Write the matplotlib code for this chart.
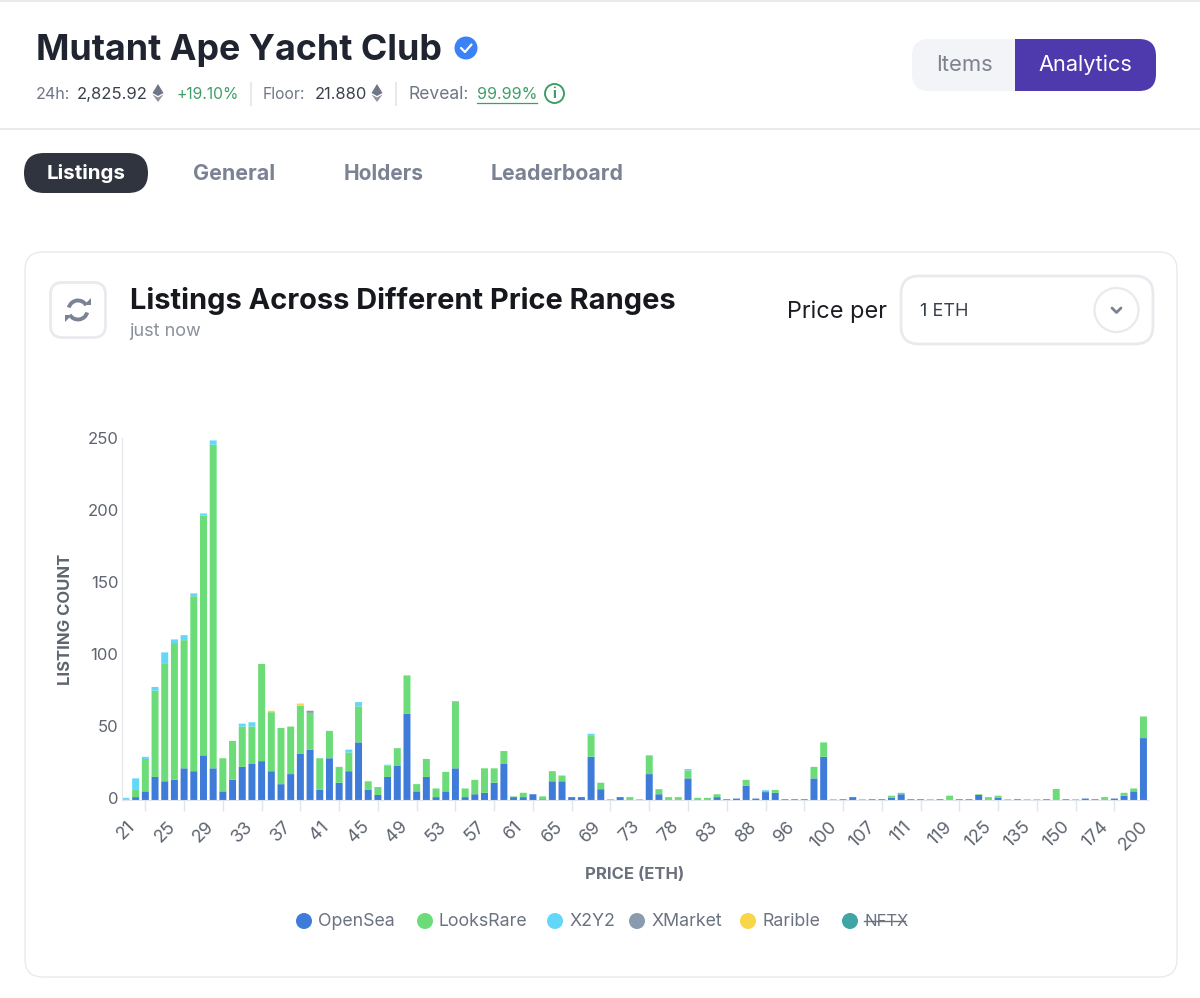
import matplotlib
matplotlib.use("Agg")
import matplotlib.pyplot as plt
from matplotlib.patches import Arc, Circle, FancyBboxPatch, Polygon, Rectangle
from matplotlib.transforms import ScaledTranslation

plt.rcParams["font.family"] = ["Inter", "DejaVu Sans"]

tick_labels = ["21", "25", "29", "33", "37", "41", "45", "49", "53", "57", "61", "65", "69", "73",
               "78", "83", "88", "96", "100", "107", "111", "119", "125", "135", "150", "174", "200"]

opensea = [0, 2, 6, 16, 13, 14, 22, 20, 31, 22,
           6, 14, 23, 25, 27, 20, 11, 18, 32, 35,
           7, 29, 12, 20, 40, 7, 3.5, 16, 24, 60,
           6, 16, 2, 6, 22, 2, 4, 5, 12, 25,
           2, 2, 4, 0.5, 13, 13, 2, 2, 30, 7.5,
           0.3, 2, 0, 0, 18, 4, 0, 0, 15, 0,
           0, 2, 0.5, 1, 10, 1, 5.5, 5, 0.5, 0.5,
           0.5, 15, 30, 0, 0.5, 2, 0, 0.5, 0.5, 1.5,
           4, 0.5, 0.5, 0, 0.5, 0, 0.5, 0.5, 3.5, 0,
           1.5, 0, 0.5, 0, 0, 0.5, 0, 0.5, 0, 1,
           0.5, 0, 1, 3, 6, 43]
looksrare = [0.5, 5, 22.5, 60, 82, 95, 89, 121.5, 166.5, 224.7,
             23, 27, 28, 26, 67.5, 41, 39, 33, 33.5, 25.5,
             22, 19, 10.5, 13, 25, 6, 5.5, 8, 12, 26.5,
             5, 12.5, 6, 13.5, 46, 6, 10, 17, 10, 9,
             0.5, 3, 0, 2, 7, 4, 0, 0, 15, 4.5,
             0, 0, 2, 0.5, 13, 3.5, 2, 2, 5.5, 1.5,
             1.5, 2, 0, 0, 4, 0, 1, 2, 0, 0,
             0, 8, 10, 0.5, 0, 0, 0.5, 0, 0, 1.5,
             1, 0, 0, 0.5, 0, 3, 0, 0, 0.5, 2,
             1.5, 0.5, 0, 0.5, 0.5, 0, 7, 0, 0.5, 0,
             0, 2, 0, 2, 2, 15]
x2y2 = [1, 8, 1.5, 2.5, 7.5, 2.5, 3.5, 2, 1.5, 3,
        0, 0, 2, 3, 0, 0, 0, 0, 0, 0,
        0, 0, 0, 2, 3, 0, 0, 0.5, 0, 0,
        0, 0, 0, 0, 0, 0, 0, 0, 0, 0,
        0, 0, 0, 0, 0, 0, 0, 0, 1, 0,
        0, 0, 0, 0, 0, 0, 0, 0, 1, 0,
        0, 0, 0, 0, 0, 0, 0.5, 0, 0, 0,
        0, 0, 0, 0, 0, 0, 0, 0, 0, 0,
        0, 0, 0, 0, 0, 0, 0, 0, 0, 0,
        0, 0, 0, 0, 0, 0, 0, 0, 0, 0,
        0, 0, 0, 0, 0, 0]
xmarket = [0, 0, 0, 0, 0, 0, 0, 0, 0, 0,
           0, 0, 0, 0, 0, 0, 0, 0, 0, 1.5,
           0, 0, 0.5, 0, 0, 0, 0, 0, 0, 0,
           0, 0, 0, 0, 0.5, 0, 0, 0, 0, 0,
           0, 0, 0, 0, 0, 0, 0, 0, 0, 0,
           0, 0, 0, 0, 0, 0, 0, 0, 0, 0,
           0, 0, 0, 0, 0, 0, 0, 0, 0, 0,
           0, 0, 0, 0, 0, 0, 0, 0, 0, 0,
           0, 0, 0, 0, 0, 0, 0, 0, 0, 0,
           0, 0, 0, 0, 0, 0, 0.5, 0, 0, 0,
           0, 0, 0, 0, 0, 0]
rarible = [0, 0, 0, 0, 0, 0, 0, 0, 0, 0,
           0, 0, 0, 0, 0, 1, 0, 0, 1.5, 0,
           0, 0, 0, 0, 0, 0, 0, 0, 0, 0,
           0, 0, 0, 0, 0, 0, 0, 0, 0, 0,
           0, 0, 0, 0, 0, 0, 0, 0, 0, 0,
           0, 0, 0, 0, 0, 0, 0, 0, 0, 0,
           0, 0, 0, 0, 0, 0, 0, 0, 0, 0,
           0, 0, 0, 0, 0, 0, 0, 0, 0, 0,
           0, 0, 0, 0, 0, 0, 0, 0, 0, 0,
           0, 0, 0, 0, 0, 0, 0, 0, 0, 0,
           0, 0, 0, 0, 0, 0]

series_names = ["OpenSea", "LooksRare", "X2Y2", "XMarket", "Rarible", "NFTX"]
series_colors = ["#3f7cd9", "#6cdc78", "#63d7f9", "#8a9bb0", "#f9d648", "#3fa5a5"]
legend_dots = [304, 425, 555, 637, 748, 850]

W, H = 1200, 998
TITLE = "#1f2430"
GRAY = "#6f7686"
TAB = "#7b8294"
BORDER = "#e8eaee"
GREEN = "#3f9e68"

fig = plt.figure(figsize=(W / 100, H / 100), dpi=100, facecolor="white")

# page furniture, drawn in pixel coordinates
ui = fig.add_axes([0, 0, 1, 1], zorder=0)
ui.set_xlim(0, W)
ui.set_ylim(H, 0)
ui.axis("off")


def txt(x, y, s, size, color=GRAY, weight="normal", ha="left"):
    return ui.text(x, y + 1, s, fontsize=size, color=color, fontweight=weight, ha=ha, va="center")


def rbox(x, y, w, h, r, fc="white", ec="none", lw=1.0):
    p = FancyBboxPatch((x + r, y + r), w - 2 * r, h - 2 * r, boxstyle=f"round,pad={r},rounding_size={r}",
                       fc=fc, ec=ec, lw=lw)
    ui.add_patch(p)
    return p


def eth(x, y):
    ui.add_patch(Polygon([(x, y - 9), (x + 5.5, y), (x, y + 3), (x - 5.5, y)], fc="#6f7686", ec="none"))
    ui.add_patch(Polygon([(x - 5.5, y + 1.5), (x, y + 4.5), (x + 5.5, y + 1.5), (x, y + 9)], fc="#8d93a1", ec="none"))


ui.plot([0, W], [0.5, 0.5], color=BORDER, lw=1.5)
ui.plot([0, W], [129, 129], color=BORDER, lw=1.5)

txt(36, 49, "Mutant Ape Yacht Club", 25.8, TITLE, "bold")
ui.add_patch(Circle((466, 48), 11.5, fc="#3b82f6", ec="none"))
ui.plot([461, 465, 471.5], [48, 52, 44.5], color="white", lw=1.6, solid_capstyle="round")

txt(36, 93, "24h:", 11.6)
txt(77, 93, "2,825.92", 12, "#3a404d")
eth(158, 93)
txt(176, 93, "+19.10%", 11.3, GREEN)
ui.plot([250.5, 250.5], [83, 105], color=BORDER, lw=1.5)
txt(263, 93, "Floor:", 11.3)
txt(315, 93, "21.880", 11.9, "#3a404d")
eth(377, 93)
ui.plot([396, 396], [83, 105], color=BORDER, lw=1.5)
txt(409, 93, "Reveal:", 12.6)
txt(477, 93, "99.99%", 11.6, GREEN)
ui.plot([477, 537], [103, 103], color=GREEN, lw=0.9)
ui.add_patch(Circle((554.5, 93.5), 9.5, fc="white", ec=GREEN, lw=1.4))
ui.text(554.5, 93.5, "i", fontsize=10.5, color=GREEN, ha="center", va="center", fontweight="bold")

# Items / Analytics switch
rbox(912, 39, 125, 52, 17, fc="#f2f4f7")
rbox(1015, 39, 141, 52, 17, fc="#4e39ad")
ui.add_patch(Rectangle((1015, 39), 20, 52, fc="#4e39ad", ec="none"))
txt(964, 64, "Items", 15.8, "#7d828d", ha="center")
txt(1085.5, 64, "Analytics", 15.7, "white", ha="center")

# tabs
rbox(24, 153, 124, 40, 20, fc="#30343f")
txt(86, 172.5, "Listings", 14.8, "white", "bold", ha="center")
txt(234.5, 172.5, "General", 15.4, TAB, "bold", ha="center")
txt(383.5, 172.5, "Holders", 15, TAB, "bold", ha="center")
txt(557.5, 172.5, "Leaderboard", 15.3, TAB, "bold", ha="center")

# card
rbox(25, 252, 1152, 725, 18, fc="white", ec=BORDER, lw=1.0)
rbox(50.5, 282.5, 55, 55, 12, fc="white", ec=BORDER, lw=2)
ui.add_patch(Arc((78, 310), 19, 19, theta1=195, theta2=330, color=TAB, lw=2.8))
ui.add_patch(Arc((78, 310), 19, 19, theta1=15, theta2=150, color=TAB, lw=2.8))
ui.add_patch(Polygon([(84, 305), (91, 298), (91, 305)], fc=TAB, ec="none"))
ui.add_patch(Polygon([(72, 315), (65, 322), (65, 315)], fc=TAB, ec="none"))
txt(130, 300, "Listings Across Different Price Ranges", 20.9, "#16181d", "bold")
txt(129, 330, "just now", 13, "#8a909c")
txt(787, 310.5, "Price per", 16.9, "#1b1d22")
rbox(901, 276, 252, 68, 18, fc="white", ec=BORDER, lw=2.0)
txt(920, 310, "1 ETH", 13, "#3a404d")
ui.add_patch(Circle((1116.5, 310), 22, fc="white", ec=BORDER, lw=1.6))
ui.plot([1112, 1116.5, 1121], [308, 312.5, 308], color=TAB, lw=2, solid_capstyle="round")

# bars
ax = fig.add_axes([121.7 / W, 1 - 800 / H, (1148 - 121.7) / W, (800 - 438) / H], zorder=1)
ax.patch.set_alpha(0)
xs = list(range(len(opensea)))
bottom = [0.0] * len(xs)
for vals, color in zip([opensea, looksrare, x2y2, xmarket, rarible], series_colors):
    bars = ax.bar(xs, vals, bottom=bottom, width=0.72, color=color, linewidth=0)
    for b in bars:
        b.set_snap(False)  # keeps the sub-pixel stubs pale
    bottom = [b + v for b, v in zip(bottom, vals)]

ax.set_xlim(-0.44, 105.47)
ax.set_ylim(0, 251.4)
ax.set_yticks([0, 50, 100, 150, 200, 250])
ax.set_xticks(list(range(0, 108, 4)))
ax.set_xticklabels(tick_labels, rotation=45, ha="center", rotation_mode="default")
ax.set_xticks(list(range(2, 106, 4)), minor=True)
ax.tick_params(axis="x", which="major", length=0, pad=13, labelsize=13, labelcolor="#5f6570")
ax.tick_params(axis="x", which="minor", length=8, width=1, color="#e3e5e9")
ax.tick_params(axis="y", length=0, pad=3, labelsize=12, labelcolor="#5f6570")
nudge = ScaledTranslation(1 / 100, 2 / 100, fig.dpi_scale_trans)
for lab in ax.get_yticklabels():
    lab.set_transform(lab.get_transform() + nudge)
for side in ["top", "right"]:
    ax.spines[side].set_visible(False)
ax.spines["left"].set_color("#e3e5e9")
ax.spines["bottom"].set_color("#dfe3ea")
ax.set_xlabel("PRICE (ETH)", fontsize=12, fontweight="bold", color="#6b717c", labelpad=0)
ax.xaxis.set_label_coords((634.5 - 121.7) / (1148 - 121.7), -(867 - 800) / (800 - 438), transform=ax.transAxes)
ax.set_ylabel("LISTING COUNT", fontsize=12, fontweight="bold", color="#5f6570")
ax.yaxis.set_label_coords((73 - 121.7) / (1148 - 121.7), (800 - 619.5) / (800 - 438), transform=ax.transAxes)

# legend
for name, color, dot in zip(series_names, series_colors, legend_dots):
    ui.add_patch(Circle((dot, 921), 8, fc=color, ec="none"))
    txt(dot + 14, 920, name, 12.8 if name != "NFTX" else 12, "#6b7280")
ui.plot([864, 905], [921, 921], color="#6b7280", lw=1)

fig.savefig("out.png", dpi=100)
